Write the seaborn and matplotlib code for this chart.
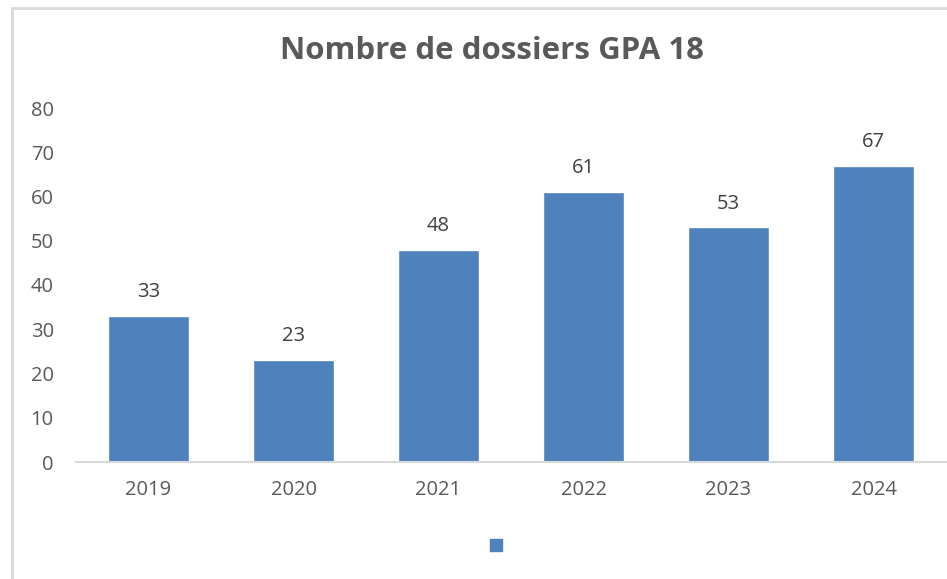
import matplotlib
matplotlib.use('Agg')
import matplotlib.pyplot as plt
from matplotlib.patches import Patch, Rectangle
import seaborn as sns
import pandas as pd

years = ['2019', '2020', '2021', '2022', '2023', '2024']
dossiers = [33, 23, 48, 61, 53, 67]
y_ticks = [0, 10, 20, 30, 40, 50, 60, 70, 80]

bar_color = '#4F81BD'
text_gray = '#595959'

sns.set_theme(style='white')
plt.rcParams['font.family'] = ['Open Sans', 'DejaVu Sans']

df = pd.DataFrame({'annee': years, 'nombre': dossiers})

fig = plt.figure(figsize=(9.47, 5.79), dpi=100)
ax = fig.add_axes([76 / 947, 1 - 462 / 579, (946 - 76) / 947, (462 - 108) / 579])

sns.barplot(data=df, x='annee', y='nombre', color=bar_color, width=0.565,
            saturation=1, ax=ax)

ax.set_ylim(0, 80)
ax.set_yticks(y_ticks)
ax.set_xlabel('')
ax.set_ylabel('')
ax.tick_params(axis='y', length=0, pad=16, labelsize=14.5, labelcolor=text_gray)
ax.tick_params(axis='x', length=0, pad=13, labelsize=14.5, labelcolor=text_gray)

for side in ['left', 'right', 'top']:
    ax.spines[side].set_visible(False)
ax.spines['bottom'].set_color('#D9D9D9')
ax.spines['bottom'].set_linewidth(1.5)

ax.bar_label(ax.containers[0], padding=10, fontsize=14.5, color='#404040')

fig.text(492 / 947, 1 - 51 / 579, 'Nombre de dossiers GPA 18', ha='center', va='center',
         fontsize=22.5, fontweight='bold', color=text_gray)

# legend with an empty label, only the coloured square
fig.legend(handles=[Patch(color=bar_color)], labels=[''], loc='center',
           bbox_to_anchor=(496 / 947, 1 - 547 / 579), frameon=False,
           handlelength=0.6, handleheight=0.6, handletextpad=0, borderpad=0,
           fontsize=14.5)

# chart area border (top and left visible)
fig.patches.append(Rectangle((12 / 947, -0.1), 1.2, 1 - 8 / 579 + 0.1,
                             transform=fig.transFigure, fill=False,
                             edgecolor='#D9D9D9', linewidth=2))

fig.savefig('out.png', dpi=100)
